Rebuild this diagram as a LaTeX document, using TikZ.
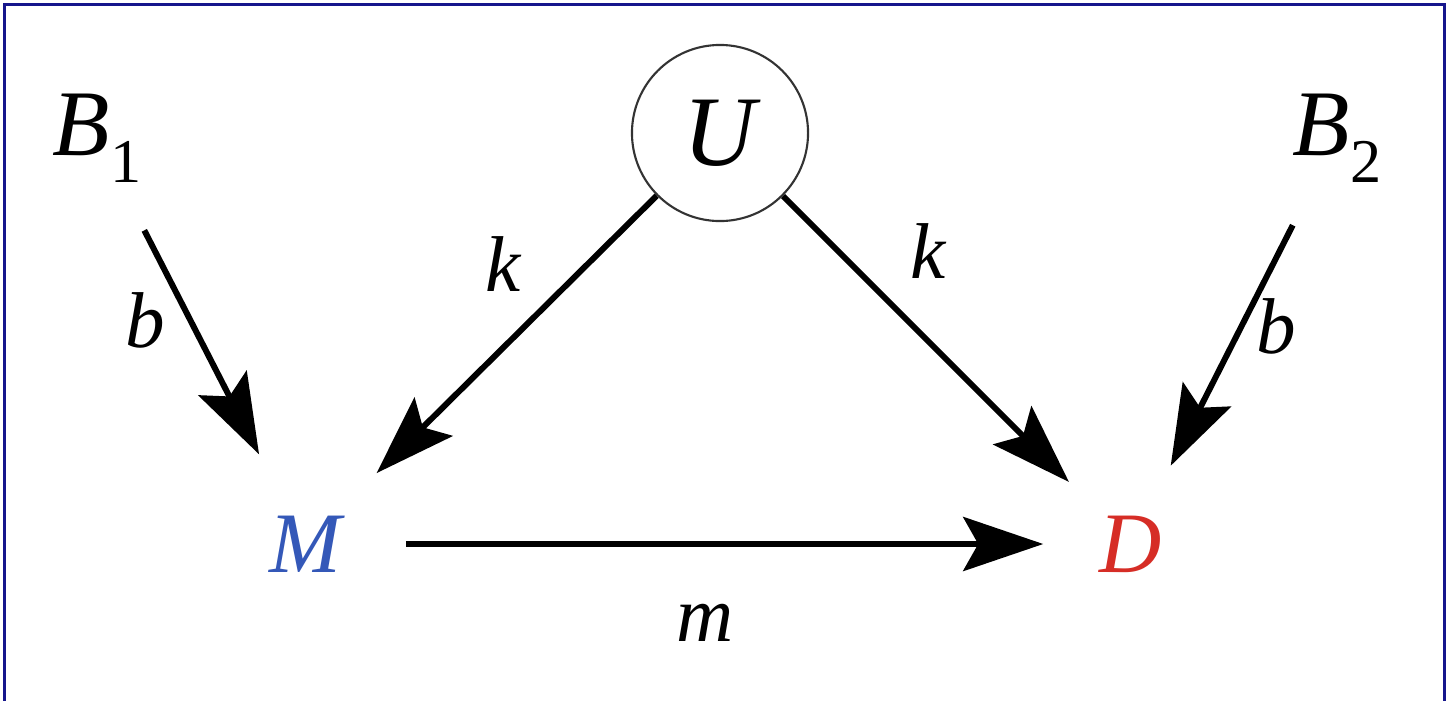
\documentclass[tikz,border=0pt]{standalone}
\usepackage{fontspec}
\setmainfont{Liberation Serif}
\newfontfamily\timesfam{Liberation Serif}
\usepackage{tikz}
\usetikzlibrary{arrows.meta, positioning}

\definecolor{frameblue}{RGB}{22,22,140}
\definecolor{mblue}{RGB}{52,88,184}
\definecolor{dred}{RGB}{214,45,38}

\newcommand\lowidx[1]{\raisebox{-0.29em}{\fontsize{17.7}{20}\selectfont\upshape #1}}

\begin{document}
\begin{tikzpicture}[
    x=0.01cm, y=-0.01cm,
    var/.style={circle, inner sep=0pt, minimum size=#1, font=\timesfam\fontsize{26.7}{30}\selectfont\itshape},
    var/.default={2cm},
    latent/.style={circle, draw=black!80, line width=0.6pt, inner sep=0pt, minimum size=1.76cm, font=\timesfam\fontsize{28.4}{30}\selectfont\itshape},
    lbl/.style={font=\timesfam\fontsize{22.5}{24}\selectfont\itshape, inner sep=2pt},
    conn/.style={-{Stealth[length=8mm, width=5.4mm, inset=1.5mm]}, line width=1.7pt, black}
]
\useasboundingbox (0,0) rectangle (1452,700);
\fill[white] (0,0) rectangle (1452,700);
\draw[frameblue, line width=0.9pt] (4.5,4.5) rectangle (1444.5,760);

% === VARIABLES ===
\node[var=2.06cm] (b1) at (97,138) {B\lowidx{1}};
\node[latent] (u) at (720,133) {U};
\node[var=1.94cm] (b2) at (1337,138) {B\lowidx{2}};
\node[var=2cm, font=\timesfam\fontsize{24.5}{30}\selectfont\itshape, text=mblue] (m) at (305,544) {M};
\node[var=1.74cm, font=\timesfam\fontsize{24.5}{30}\selectfont\itshape, text=dred] (d) at (1131,544) {D};

% === CONEXIONES ===
\draw[conn] (b1) -- node[lbl, left=1.5mm, pos=0.4] (bm) {b} (m);
\draw[conn] (u) -- node[lbl, above left=0mm and 2mm, pos=0.38] (km) {k} (m);
\draw[conn] (u) -- node[lbl, above right=1mm and 1.5mm, pos=0.36] (kd) {k} (d);
\draw[conn] (b2) -- node[lbl, right=0.5mm, pos=0.42] (bd) {b} (d);
\draw[conn] (m) -- node[lbl, below=5mm, pos=0.47] (md) {m} (d);

\end{tikzpicture}
\end{document}
